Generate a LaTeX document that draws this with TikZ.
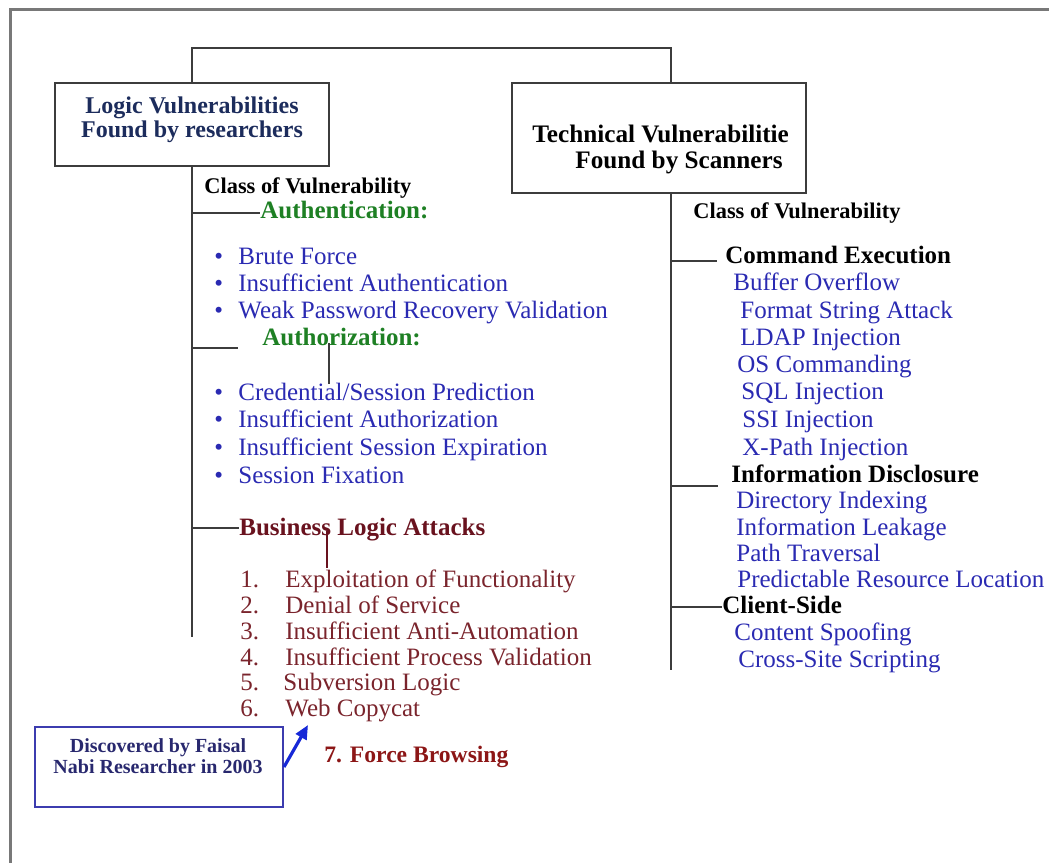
\documentclass[tikz,border=0pt]{standalone}
\usepackage{fontspec}
\setmainfont{Liberation Serif}
\usetikzlibrary{arrows.meta,calc}
\definecolor{itemblue}{RGB}{42,42,178}
\definecolor{hdgreen}{RGB}{30,128,36}
\definecolor{listred}{RGB}{122,36,44}
\definecolor{bizred}{RGB}{105,18,30}
\definecolor{forcered}{RGB}{140,22,22}
\definecolor{navytxt}{RGB}{28,44,92}
\definecolor{notetxt}{RGB}{40,40,110}
\definecolor{linegray}{RGB}{60,60,60}
\definecolor{framegray}{RGB}{120,120,120}
\definecolor{arrowblue}{RGB}{22,40,215}
\definecolor{noteblue}{RGB}{60,60,175}
\begin{document}
\begin{tikzpicture}[x=0.5pt,y=-0.5pt,
  txt/.style={anchor=base west,inner sep=0pt,font=\fontsize{12.5}{15}\selectfont},
  hdr/.style={txt,font=\fontsize{12.5}{15}\selectfont\bfseries},
  cls/.style={txt,font=\fontsize{11.2}{13}\selectfont\bfseries,text=black},
  bl/.style={txt,text=itemblue},
  bul/.style={txt,text=itemblue},
  nl/.style={txt,text=listred},
  boxshape/.style={draw=linegray,line width=1.25pt,rectangle,inner sep=0pt},
  conn/.style={draw=linegray,line width=1.25pt},
  boxtxt/.style={anchor=base,inner sep=0pt,font=\fontsize{12}{14}\selectfont\bfseries}]
\useasboundingbox (0,0) rectangle (1049,863);
% outer frame
\draw[framegray,line width=1.5pt] (1049,9) -- (10,9) -- (10,863);

% boxes
\node[boxshape,minimum width=137pt,minimum height=41.5pt] (lbox) at (192,124.5) {};
\node[boxshape,minimum width=147pt,minimum height=55pt] (rbox) at (659,138) {};
\node[boxtxt,text=navytxt] (l1) at (192,113) {Logic Vulnerabilities};
\node[boxtxt,text=navytxt] (l2) at (192,137) {Found by researchers};
\node[boxtxt,anchor=base west,text=black,font=\fontsize{12.6}{14}\selectfont\bfseries] (r1) at (532,142) {Technical Vulnerabilitie};
\node[boxtxt,anchor=base west,text=black,font=\fontsize{12.6}{14}\selectfont\bfseries] (r2) at (575,168) {Found by Scanners};

% top connector
\coordinate (rx) at (671,0);
\coordinate (topy) at (0,48);
\draw[conn] (lbox.north) -- (lbox.north |- topy) -- (rx |- topy) -- (rbox.north -| rx);

% left trunk
\coordinate (lend) at (192,637);
\draw[conn] (lbox.south) -- (lend);
\node[cls] (lclass) at (204,193) {Class of Vulnerability};

\node[hdr,text=hdgreen] (auth) at (260,218) {Authentication:};
\coordinate (ja) at (192,213);
\draw[conn] (ja) -- (ja -| auth.west);

\node[bul] (b1) at (214,264) {•};
\node[bl] (a1) at (238,264) {Brute Force};
\node[bul] (b2) at (214,291) {•};
\node[bl] (a2) at (238,291) {Insufficient Authentication};
\node[bul] (b3) at (214,318) {•};
\node[bl] (a3) at (238,318) {Weak Password Recovery Validation};

\node[hdr,text=hdgreen] (authz) at (262,345) {Authorization:};
\coordinate (jz) at (192,348);
\coordinate (jzend) at (238,348);
\draw[conn] (jz) -- (jzend);
\coordinate (vz1) at (329,343);
\coordinate (vz2) at (329,384);
\draw[conn] (vz1) -- (vz2);

\node[bul] (b4) at (214,400) {•};
\node[bl] (z1) at (238,400) {Credential/Session Prediction};
\node[bul] (b5) at (214,427) {•};
\node[bl] (z2) at (238,427) {Insufficient Authorization};
\node[bul] (b6) at (214,455) {•};
\node[bl] (z3) at (238,455) {Insufficient Session Expiration};
\node[bul] (b7) at (214,483) {•};
\node[bl] (z4) at (238,483) {Session Fixation};

\node[hdr,text=bizred] (biz) at (239,535) {Business Logic Attacks};
\coordinate (jb) at (192,528);
\draw[conn] (jb) -- (jb -| biz.west);
\coordinate (vb1) at (327,531);
\coordinate (vb2) at (327,568);
\draw[draw=bizred,line width=1.25pt] (vb1) -- (vb2);

\node[nl] (n1) at (240,587) {\makebox[22.5pt][l]{1.}Exploitation of Functionality};
\node[nl] (n2) at (240,613) {\makebox[22.5pt][l]{2.}Denial of Service};
\node[nl] (n3) at (240,639) {\makebox[22.5pt][l]{3.}Insufficient Anti-Automation};
\node[nl] (n4) at (240,665) {\makebox[22.5pt][l]{4.}Insufficient Process Validation};
\node[nl] (n5) at (240,690) {\makebox[21.5pt][l]{5.}Subversion Logic};
\node[nl] (n6) at (240,716) {\makebox[22.5pt][l]{6.}Web Copycat};

% note box
\node[draw=noteblue,line width=1pt,rectangle,minimum width=124pt,minimum height=40pt,inner sep=0pt] (note) at (159,767) {};
\node[anchor=base,inner sep=0pt,font=\fontsize{10}{12}\selectfont\bfseries,text=notetxt] (nt1) at (158,752) {Discovered by Faisal};
\node[anchor=base,inner sep=0pt,font=\fontsize{10}{12}\selectfont\bfseries,text=notetxt] (nt2) at (158,773) {Nabi Researcher in 2003};
\coordinate (atip) at (308,725);
\draw[arrowblue,line width=1.6pt,-{Triangle[length=7pt,width=6pt]}] (note.east) -- (atip);
\node[txt,font=\fontsize{11.8}{14}\selectfont\bfseries,text=forcered] (force) at (324,762) {7. Force Browsing};

% right trunk
\coordinate (rend) at (671,670);
\draw[conn] (rbox.south -| rx) -- (rend);
\node[cls] (rclass) at (693,218) {Class of Vulnerability};

\node[hdr,text=black] (cmd) at (725,263) {Command Execution};
\coordinate (jc) at (671,261);
\coordinate (jcend) at (717,261);
\draw[conn] (jc) -- (jcend);
\node[bl] (c1) at (733,290) {Buffer Overflow};
\node[bl] (c2) at (740,318) {Format String Attack};
\node[bl] (c3) at (740,345) {LDAP Injection};
\node[bl] (c4) at (737,372) {OS Commanding};
\node[bl] (c5) at (741,399) {SQL Injection};
\node[bl] (c6) at (742,427) {SSI Injection};
\node[bl] (c7) at (742,455) {X-Path Injection};

\node[hdr,text=black] (info) at (731,482) {Information Disclosure};
\coordinate (ji) at (671,486);
\coordinate (jiend) at (718,486);
\draw[conn] (ji) -- (jiend);
\node[bl] (i1) at (736,508) {Directory Indexing};
\node[bl] (i2) at (736,535) {Information Leakage};
\node[bl] (i3) at (736,561) {Path Traversal};
\node[bl] (i4) at (737,587) {Predictable Resource Location};

\node[hdr,text=black] (client) at (722,613) {Client-Side};
\coordinate (jl) at (671,607);
\draw[conn] (jl) -- (jl -| client.west);
\node[bl] (s1) at (734,640) {Content Spoofing};
\node[bl] (s2) at (738,667) {Cross-Site Scripting};
\end{tikzpicture}
\end{document}
